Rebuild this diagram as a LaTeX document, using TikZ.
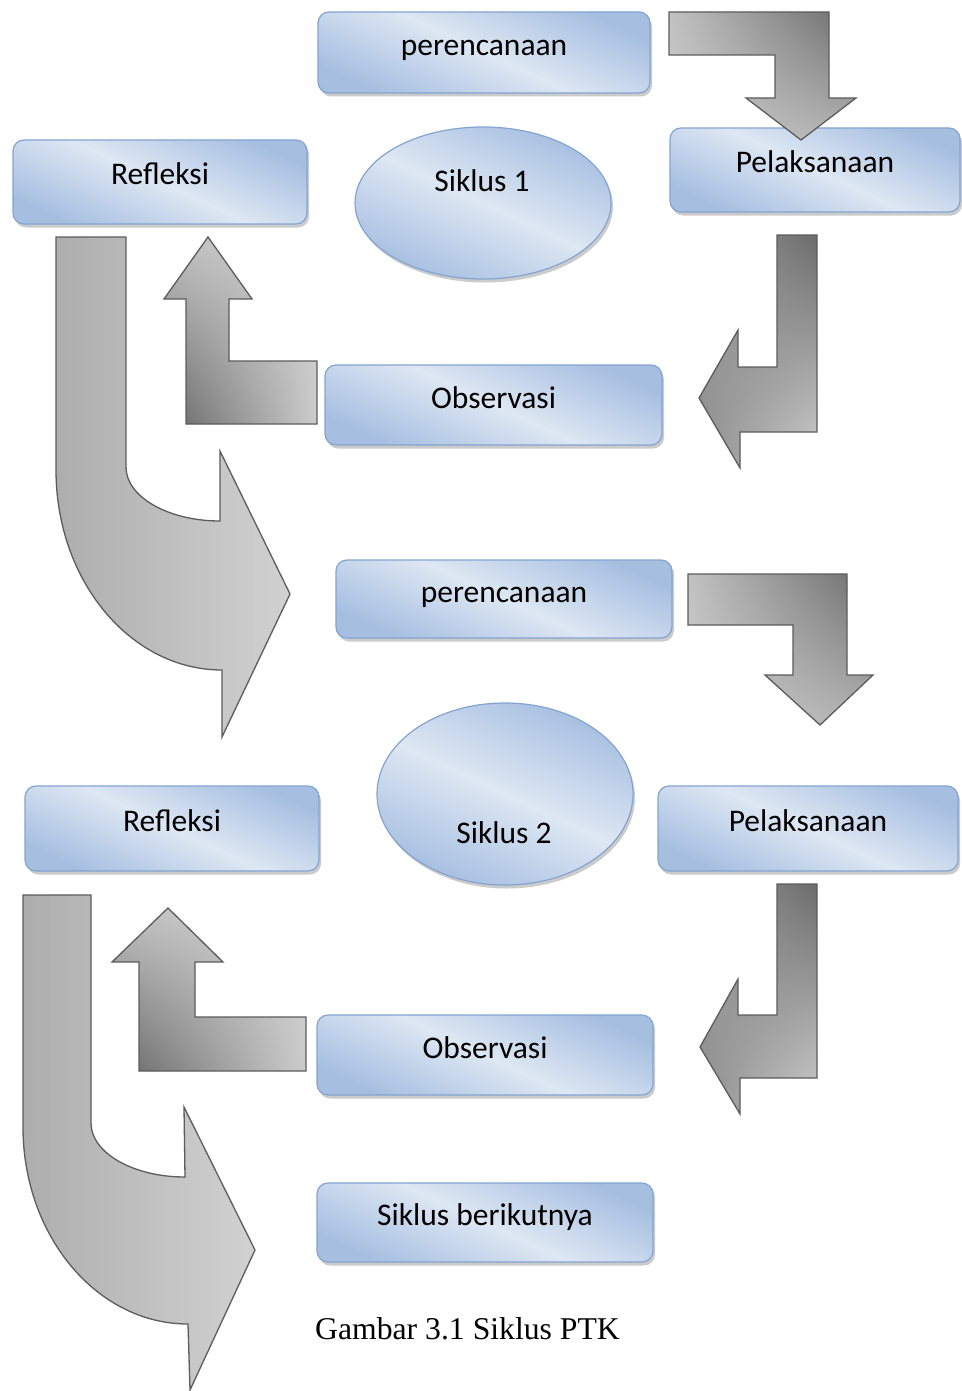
\documentclass[tikz,border=0pt]{standalone}
\usepackage{fontspec}
\setmainfont{Carlito}
\newfontfamily\capfont{Liberation Serif}
\usetikzlibrary{shadows,shapes.geometric,shadings}
\definecolor{bdark}{RGB}{166,191,225}
\definecolor{blight}{RGB}{222,231,243}
\definecolor{bline}{RGB}{132,164,208}
\definecolor{aline}{RGB}{92,92,92}
\tikzset{
  blueshade/.style={draw=bline, line width=1.2pt, top color=bdark, bottom color=bdark, middle color=blight, shading angle=-25,
    drop shadow={shadow xshift=2pt, shadow yshift=-3.5pt, fill=black!45, opacity=0.45}},
  boxnode/.style={blueshade, rectangle, rounded corners=11pt, inner sep=0pt,
    font=\fontsize{31.5}{36}\selectfont, text height=18pt, text depth=12pt},
  ellnode/.style={blueshade, ellipse, inner sep=0pt},
  lbl/.style={font=\fontsize{31.5}{36}\selectfont, anchor=base, inner sep=0pt},
  blockarrow/.style={draw=aline, line width=1.3pt, line join=miter},
}
\begin{document}
\begin{tikzpicture}[x=1pt,y=-1pt]
\useasboundingbox (0,0) rectangle (961,1391);
\fill[white] (0,0) rectangle (961,1391);
% ---------- cycle 1 ----------
\node[boxnode, minimum width=332pt, minimum height=81pt] (per1) at (484,52.5) {perencanaan};
\node[boxnode, minimum width=290pt, minimum height=84pt] (pel1) at (815,170) {Pelaksanaan};
\node[boxnode, minimum width=294pt, minimum height=84pt] (ref1) at (160,182) {Refleksi};
\node[boxnode, minimum width=337pt, minimum height=80pt] (obs1) at (493.5,405) {Observasi};
\node[ellnode, minimum width=256pt, minimum height=152pt] (e1) at (483,203) {};
\node[lbl] (s1) at (482,192) {Siklus 1};
% ---------- cycle 2 ----------
\node[boxnode, minimum width=336pt, minimum height=78pt] (per2) at (504,599) {perencanaan};
\node[boxnode, minimum width=294pt, minimum height=85pt] (ref2) at (172,828.5) {Refleksi};
\node[boxnode, minimum width=300pt, minimum height=85pt] (pel2) at (808,828.5) {Pelaksanaan};
\node[boxnode, minimum width=336pt, minimum height=80pt] (obs2) at (485,1055) {Observasi};
\node[boxnode, minimum width=336pt, minimum height=79pt] (nxt) at (485,1222.5) {Siklus berikutnya};
\node[ellnode, minimum width=256pt, minimum height=182pt] (e2) at (505,794) {};
\node[lbl] (s2) at (504,843) {Siklus 2};
% ---------- caption ----------
\node[anchor=base, inner sep=0pt, font=\capfont\fontsize{31.7}{36}\selectfont] (cap) at (467.5,1339) {Gambar 3.1 Siklus PTK};
% ---------- block arrows, cycle 1 ----------
\shadedraw[blockarrow, upper left=black!24, upper right=black!58, lower left=black!20, lower right=black!30]
  (669,12) -- (829,12) -- (829,98) -- (856,98) -- (801,140) -- (746,98) -- (775,98) -- (775,55) -- (669,55) -- cycle;
\shadedraw[blockarrow, upper left=black!38, upper right=black!58, lower left=black!45, lower right=black!18]
  (777,235) -- (817,235) -- (817,432) -- (740,432) -- (740,468) -- (699,398) -- (738,330) -- (738,367) -- (777,367) -- cycle;
\shadedraw[blockarrow, upper left=black!24, upper right=black!18, lower left=black!60, lower right=black!20]
  (208,237) -- (252,299) -- (229,299) -- (229,361) -- (317,361) -- (317,424) -- (186,424) -- (186,299) -- (164,299) -- cycle;
\shadedraw[blockarrow, left color=black!32, right color=black!18]
  (56,237) -- (126,237) -- (126,467) .. controls (126,496.8) and (168.1,521) .. (220,521)
  -- (220,451) -- (290,594) -- (222,737) -- (222,670) .. controls (130.3,670) and (56,580.5) .. (56,470) -- cycle;
% ---------- block arrows, cycle 2 ----------
\shadedraw[blockarrow, upper left=black!24, upper right=black!58, lower left=black!20, lower right=black!30]
  (688,574) -- (847,574) -- (847,675) -- (873,675) -- (820,725) -- (765,675) -- (793,675) -- (793,625) -- (688,625) -- cycle;
\shadedraw[blockarrow, upper left=black!38, upper right=black!58, lower left=black!45, lower right=black!18]
  (777,884) -- (817,884) -- (817,1078) -- (740,1078) -- (740,1114) -- (700,1047) -- (738,979) -- (738,1015) -- (777,1015) -- cycle;
\shadedraw[blockarrow, upper left=black!24, upper right=black!18, lower left=black!60, lower right=black!20]
  (168,908) -- (223,962) -- (195,962) -- (195,1017) -- (306,1017) -- (306,1071) -- (139,1071) -- (139,962) -- (112,962) -- cycle;
\shadedraw[blockarrow, left color=black!32, right color=black!18]
  (23,895) -- (91,895) -- (91,1123) .. controls (91,1152.8) and (133.1,1177) .. (185,1177)
  -- (184,1107) -- (255,1250) -- (190,1390) -- (188,1324) .. controls (96.9,1324) and (23,1235.8) .. (23,1127) -- cycle;
\end{tikzpicture}
\end{document}
